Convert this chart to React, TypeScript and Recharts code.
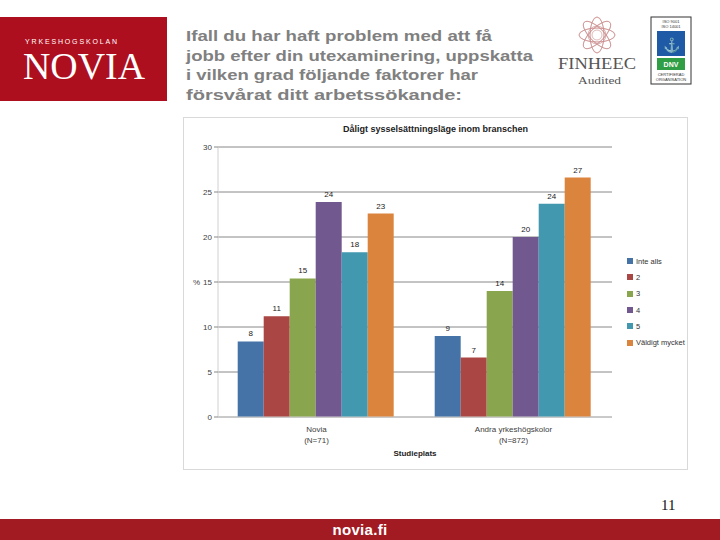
import React from 'react';
import { BarChart, Bar, XAxis, YAxis, CartesianGrid, LabelList } from 'recharts';

const categories = ['Novia\n(N=71)', 'Andra yrkeshögskolor\n(N=872)'];
const seriesNames = ['Inte alls', '2', '3', '4', '5', 'Väldigt mycket'];
const seriesColors = ['#4573A7', '#AA4643', '#89A54E', '#71588F', '#4198AF', '#DB843D'];
const values1 = [8.4, 9.0];
const values2 = [11.2, 6.6];
const values3 = [15.4, 14.0];
const values4 = [23.9, 20.0];
const values5 = [18.3, 23.7];
const values6 = [22.6, 26.6];
const yTicks = [0, 5, 10, 15, 20, 25, 30];
const titleLines = [
  'Ifall du har haft problem med att få',
  'jobb efter din utexaminering, uppskatta',
  'i vilken grad följande faktorer har',
  'försvårat ditt arbetssökande:',
];
const titleWidths = [306, 347, 292, 276];

const allValues = [values1, values2, values3, values4, values5, values6];
const data = categories.map((c, i) => {
  const row: any = { name: c };
  allValues.forEach((v, k) => { row['s' + k] = v[i]; });
  return row;
});

const chartFont = '"Liberation Sans", Arial, sans-serif';

const CatTick = (props: any) => {
  const { x, y, payload } = props;
  const lines = String(payload.value).split('\n');
  return (
    <g>
      {lines.map((l, i) => (
        <text key={i} x={x} y={y + 7 + i * 11} textAnchor="middle" fontSize={8} fill="#404040" fontFamily={chartFont}>{l}</text>
      ))}
    </g>
  );
};

export default function App() {
  return (
    <div style={{ position: 'absolute', left: 0, top: 0, width: 720, height: 540, background: '#fff', overflow: 'hidden' }}>
      {/* Novia logo */}
      <div style={{ position: 'absolute', left: 0, top: 17, width: 167, height: 84, background: '#AE0F1E' }}>
        <svg width={167} height={84}>
          <text x={25} y={27} fontSize={7} fill="#fff" fontFamily={chartFont} textLength={92} lengthAdjust="spacing">YRKESHOGSKOLAN</text>
          <text x={23} y={62} fontSize={38} fill="#fff" fontFamily='"Liberation Serif", serif' textLength={122} lengthAdjust="spacingAndGlyphs">NOVIA</text>
        </svg>
      </div>
      {/* Title */}
      <svg style={{ position: 'absolute', left: 0, top: 0 }} width={720} height={110}>
        {titleLines.map((l, i) => (
          <text key={i} x={186} y={41 + i * 19.5} fontSize={15.5} fontWeight="bold" fill="#808080" fontFamily={chartFont} textLength={titleWidths[i]} lengthAdjust="spacingAndGlyphs">{l}</text>
        ))}
        {/* FINHEEC emblem */}
        <g stroke="#c98a8a" fill="none" strokeWidth={0.6}>
          {[0, 1, 2, 3, 4, 5, 6, 7].map((k) => (
            <ellipse key={k} cx={597} cy={35} rx={18} ry={7} transform={`rotate(${k * 45} 597 35)`} />
          ))}
          <circle cx={597} cy={35} r={9} />
          <circle cx={597} cy={35} r={5} />
        </g>
        <text x={558} y={69} fontSize={17} fill="#555" fontFamily='"Liberation Serif", serif' textLength={78} lengthAdjust="spacingAndGlyphs">FINHEEC</text>
        <text x={578} y={84} fontSize={11} fill="#555" fontFamily='"Liberation Serif", serif' textLength={43} lengthAdjust="spacingAndGlyphs">Audited</text>
        {/* DNV logo */}
        <rect x={651} y={17} width={40} height={67} fill="#fff" stroke="#333" strokeWidth={1} />
        <text x={671} y={23} fontSize={4} textAnchor="middle" fill="#333" fontFamily={chartFont}>ISO 9001</text>
        <text x={671} y={28} fontSize={4} textAnchor="middle" fill="#333" fontFamily={chartFont}>ISO 14001</text>
        <rect x={657} y={31} width={28} height={25} fill="#1f5aa6" />
        <text x={671} y={50} fontSize={14} textAnchor="middle" fill="#fff" fontFamily={chartFont}>⚓</text>
        <rect x={657} y={58} width={28} height={12} fill="#2f9e44" />
        <text x={671} y={67} fontSize={7} fontWeight="bold" textAnchor="middle" fill="#fff" fontFamily={chartFont}>DNV</text>
        <text x={671} y={76} fontSize={4} textAnchor="middle" fill="#333" fontFamily={chartFont}>CERTIFIERAD</text>
        <text x={671} y={81} fontSize={4} textAnchor="middle" fill="#333" fontFamily={chartFont}>ORGANISATION</text>
      </svg>
      {/* Chart box */}
      <div style={{ position: 'absolute', left: 183, top: 117, width: 503, height: 351, border: '1px solid #d9d9d9', background: '#fff' }}>
        <div style={{ position: 'absolute', left: 0, top: 6, width: 503, textAlign: 'center', fontSize: 9, fontWeight: 'bold', fontFamily: chartFont, color: '#222' }}>Dåligt sysselsättningsläge inom branschen</div>
        <BarChart width={503} height={351} data={data} margin={{ top: 29, right: 75, bottom: 0, left: 0 }} barCategoryGap="10%" barGap={0}>
          <CartesianGrid vertical={false} stroke="#888" strokeWidth={1} />
          <XAxis dataKey="name" height={52} tick={<CatTick />} tickLine={false} axisLine={{ stroke: '#d0d0d0' }} interval={0}
            label={{ value: 'Studieplats', position: 'insideBottom', offset: 13, fontSize: 8, fontWeight: 'bold', fill: '#222', fontFamily: chartFont }} />
          <YAxis width={34} domain={[0, 30]} ticks={yTicks} interval={0} tick={{ fontSize: 8, fill: '#404040', fontFamily: chartFont }} tickLine={{ stroke: '#888' }} tickSize={4} axisLine={{ stroke: '#d0d0d0' }}
            label={{ value: '%', position: 'insideLeft', offset: 9, fontSize: 8, fill: '#404040', fontFamily: chartFont }} />
          {seriesNames.map((n, k) => (
            <Bar key={n} dataKey={'s' + k} name={n} fill={seriesColors[k]} isAnimationActive={false}>
              <LabelList dataKey={'s' + k} position="top" offset={5} formatter={(v: any) => Math.round(Number(v))} style={{ fontSize: 8, fill: '#222', fontFamily: chartFont }} />
            </Bar>
          ))}
        </BarChart>
        {/* Legend */}
        <div style={{ position: 'absolute', left: 443, top: 135, fontFamily: chartFont, fontSize: 7.5, color: '#333' }}>
          {seriesNames.map((n, k) => (
            <div key={n} style={{ display: 'flex', alignItems: 'center', height: 16.3 }}>
              <span style={{ display: 'inline-block', width: 6, height: 6, background: seriesColors[k], marginRight: 3 }} />
              <span>{n}</span>
            </div>
          ))}
        </div>
      </div>
      {/* Page number */}
      <div style={{ position: 'absolute', left: 661, top: 497, fontSize: 15, fontFamily: '"Liberation Serif", serif', color: '#111' }}>11</div>
      {/* Footer */}
      <div style={{ position: 'absolute', left: 0, top: 519, width: 720, height: 21, background: '#A21B23' }}>
        <div style={{ textAlign: 'center', color: '#fff', fontWeight: 'bold', fontSize: 15, fontFamily: chartFont, lineHeight: '21px', letterSpacing: 0.3 }}>novia.fi</div>
      </div>
    </div>
  );
}
